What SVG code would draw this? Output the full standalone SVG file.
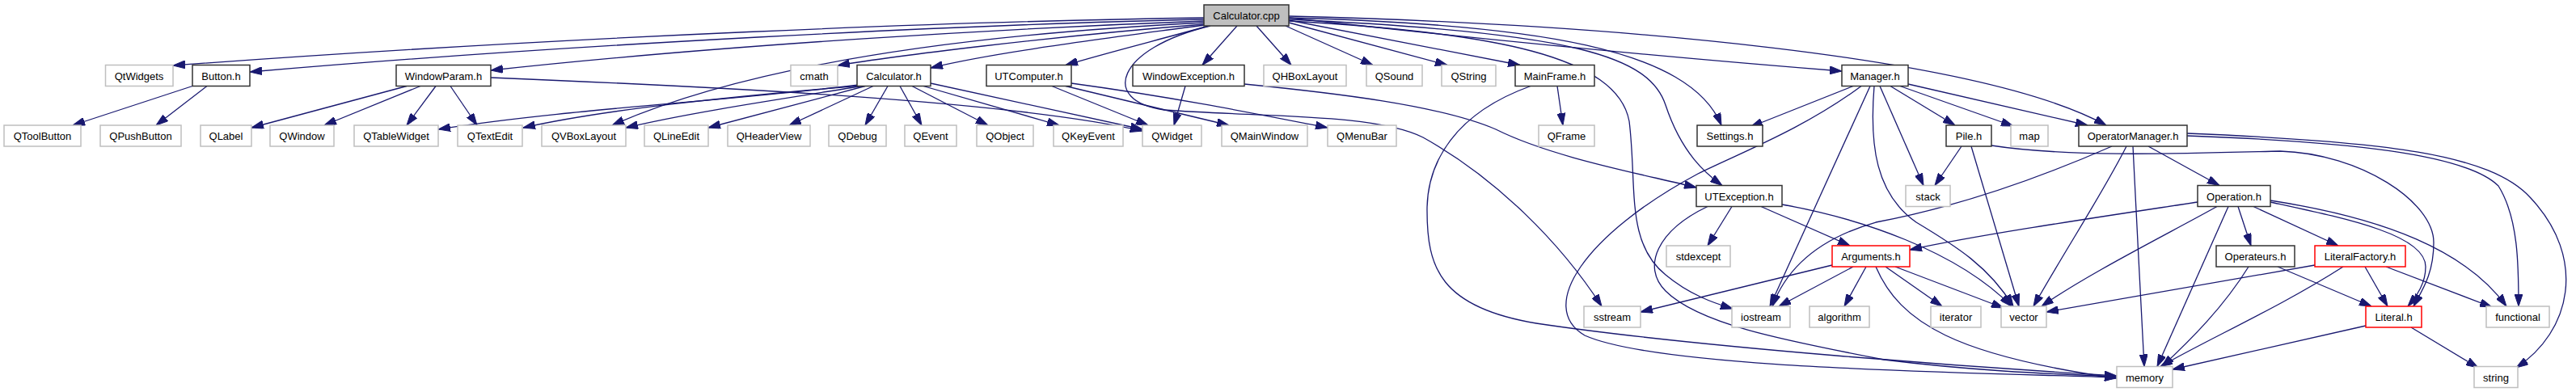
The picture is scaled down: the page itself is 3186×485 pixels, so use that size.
<svg xmlns="http://www.w3.org/2000/svg" width="3186" height="485" viewBox="0 0 3186 485">
<style>
rect{stroke-width:1.5}
.n{fill:#fff;stroke:#333}
.e{fill:#fff;stroke:#bfbfbf}
.t{fill:#fff;stroke:#f00}
.r{fill:#bfbfbf;stroke:#333}
text{font-family:"Liberation Sans",Arial,sans-serif;font-size:13px;fill:#000;text-anchor:middle}
#edges path{fill:none;stroke:#191970;stroke-width:1.3;marker-end:url(#ah)}
</style>
<defs>
<marker id="ah" markerUnits="userSpaceOnUse" markerWidth="15" markerHeight="10" refX="15" refY="5" orient="auto"><path d="M0,0 L15,5 L0,10 z" fill="#191970" stroke="#191970" stroke-width="1"/></marker>
</defs>
<rect width="3186" height="485" fill="#fff"/>
<g id="edges">
<path d="M1489,22 C1200,26 700,45 214,81"/>
<path d="M1489,24 C1200,30 700,55 309,89"/>
<path d="M1489,26 C1250,35 900,55 607,87"/>
<path d="M1489,28 C1250,40 950,70 757,155"/>
<path d="M1489,30 C1300,45 1100,70 1036,81"/>
<path d="M1489,31 C1350,50 1230,65 1151,84"/>
<path d="M1495,32 C1430,50 1370,65 1318,80.5"/>
<path d="M1497,32 C1380,60 1360,125 1440,136 C1560,145 1700,140 1760,170 C1850,220 1930,300 1981,379"/>
<path d="M1530,32 L1487,80.5"/>
<path d="M1554,32 L1597,80.5"/>
<path d="M1590,32 L1698,80.5"/>
<path d="M1594,28 L1790,80.5"/>
<path d="M1594,25 L1880,80.5"/>
<path d="M1594,22 C1800,45 2050,70 2278,88"/>
<path d="M1594,20 C2000,30 2450,70 2605,155"/>
<path d="M1594,22 C1900,30 2090,60 2129,155"/>
<path d="M1594,24 C1950,40 2040,70 2060,130 C2080,190 2110,215 2130,229.5"/>
<path d="M1594,26 C1850,40 2000,70 2015,150 C2025,230 2010,300 2060,340 C2090,365 2120,375 2143,382"/>
<path d="M238,106.5 L90,155"/>
<path d="M256,106.5 L193,155"/>
<path d="M503,106.5 L311,158"/>
<path d="M520,106.5 L401,155"/>
<path d="M539,106.5 L503,155"/>
<path d="M557,106.5 L590,155"/>
<path d="M607,96 C900,108 1250,125 1413,162"/>
<path d="M1062,105 C900,125 700,135 542,160"/>
<path d="M1064,106 C900,120 750,135 647,158"/>
<path d="M1066,106.5 C950,125 850,140 774,158"/>
<path d="M1070,106.5 L876,158"/>
<path d="M1080,106.5 L976,155"/>
<path d="M1098,106.5 L1070,155"/>
<path d="M1113,106.5 L1140,155"/>
<path d="M1128,106.5 L1222,155"/>
<path d="M1142,106.5 L1310,155"/>
<path d="M1151,103 L1413,160"/>
<path d="M1301,106.5 L1420,155"/>
<path d="M1318,106.5 L1520,155"/>
<path d="M1325,103 C1450,120 1550,140 1642,158"/>
<path d="M1466,106.5 L1452,155"/>
<path d="M1539,104 C1650,115 1780,130 1850,160 C1920,195 2030,215 2098,232"/>
<path d="M1926,106.5 L1933,155"/>
<path d="M1893,106.5 C1800,140 1765,200 1765,260 C1765,330 1780,380 1900,400 C2100,430 2450,455 2618,465"/>
<path d="M2292,106.5 L2165,157"/>
<path d="M2302,106.5 C2230,160 2150,190 2100,215 C1960,290 1900,380 1960,415 C2050,455 2400,460 2618,467"/>
<path d="M2313,106.5 L2189,379"/>
<path d="M2318,106.5 C2312,180 2320,240 2370,275 C2420,305 2460,330 2490,379"/>
<path d="M2325,106.5 L2379,229.5"/>
<path d="M2338,106.5 L2418,155"/>
<path d="M2350,106.5 L2490,156"/>
<path d="M2360,104 L2582,155"/>
<path d="M2426,181 L2393,229.5"/>
<path d="M2438,181 L2497,379"/>
<path d="M2463,180 C2560,195 2700,190 2820,187 C2920,190 3010,250 3010,300 C3010,340 2995,360 2985,379"/>
<path d="M2657,181 L2745,229.5"/>
<path d="M2612,181 C2500,230 2400,260 2320,275 C2250,295 2210,330 2192,379"/>
<path d="M2630,181 C2600,240 2560,300 2515,379"/>
<path d="M2638,181 C2642,260 2648,380 2652,453.5"/>
<path d="M2705,168 C2900,175 3050,190 3090,230 C3115,270 3115,330 3115,379"/>
<path d="M2705,165 C2950,175 3080,190 3130,245 C3200,320 3180,410 3112,455"/>
<path d="M2142,255.5 L2112,304"/>
<path d="M2178,255.5 L2288,304"/>
<path d="M2204,253 C2300,270 2420,310 2488,379"/>
<path d="M2112,255.5 C2050,285 2030,330 2060,360 C2100,400 2200,420 2330,445 C2450,460 2550,463 2618,466"/>
<path d="M2266,328 L2029,386"/>
<path d="M2292,330 L2200,379"/>
<path d="M2308,330 L2281,379"/>
<path d="M2320,330 C2350,400 2420,440 2618,468"/>
<path d="M2332,330 L2402,379"/>
<path d="M2344,330 L2478,381"/>
<path d="M2718,250 C2600,268 2450,290 2362,309"/>
<path d="M2742,255.5 C2680,290 2580,340 2525,379"/>
<path d="M2756,255.5 L2668,453.5"/>
<path d="M2768,255.5 L2784,304"/>
<path d="M2787,255.5 L2892,304"/>
<path d="M2808,250 C2900,270 3000,290 3000,330 C3000,350 2990,365 2978,379"/>
<path d="M2808,248 C2950,270 3050,310 3100,379"/>
<path d="M2781,330 C2750,380 2710,420 2674,453.5"/>
<path d="M2817,330 L2933,379"/>
<path d="M2863,328 L2531,386"/>
<path d="M2898,330 C2820,380 2730,420 2672,453.5"/>
<path d="M2925,330 L2953,379"/>
<path d="M2951,330 L3082,380"/>
<path d="M2926,403 L2687,457"/>
<path d="M2982,405 L3065,455"/>
</g>
<g id="Calculator.cpp"><rect class="r" x="1489" y="6" width="105" height="26"/><text x="1541.5" y="24">Calculator.cpp</text></g>
<g id="QtWidgets"><rect class="e" x="130.5" y="80.5" width="83.5" height="26"/><text x="172" y="98.5">QtWidgets</text></g>
<g id="Button.h"><rect class="n" x="238" y="80.5" width="71" height="26"/><text x="273.5" y="98.5">Button.h</text></g>
<g id="WindowParam.h"><rect class="n" x="490" y="80.5" width="117" height="26"/><text x="548.5" y="98.5">WindowParam.h</text></g>
<g id="cmath"><rect class="e" x="978" y="80.5" width="58" height="26"/><text x="1007" y="98.5">cmath</text></g>
<g id="Calculator.h"><rect class="n" x="1060" y="80.5" width="91" height="26"/><text x="1105.5" y="98.5">Calculator.h</text></g>
<g id="UTComputer.h"><rect class="n" x="1220" y="80.5" width="105" height="26"/><text x="1272.5" y="98.5">UTComputer.h</text></g>
<g id="WindowException.h"><rect class="n" x="1401" y="80.5" width="138" height="26"/><text x="1470" y="98.5">WindowException.h</text></g>
<g id="QHBoxLayout"><rect class="e" x="1563" y="80.5" width="102" height="26"/><text x="1614" y="98.5">QHBoxLayout</text></g>
<g id="QSound"><rect class="e" x="1690" y="80.5" width="69" height="26"/><text x="1724.5" y="98.5">QSound</text></g>
<g id="QString"><rect class="e" x="1783" y="80.5" width="67" height="26"/><text x="1816.5" y="98.5">QString</text></g>
<g id="MainFrame.h"><rect class="n" x="1874" y="80.5" width="98" height="26"/><text x="1923" y="98.5">MainFrame.h</text></g>
<g id="Manager.h"><rect class="n" x="2278" y="80.5" width="82" height="26"/><text x="2319" y="98.5">Manager.h</text></g>
<g id="QToolButton"><rect class="e" x="5" y="155" width="95" height="26"/><text x="52.5" y="173">QToolButton</text></g>
<g id="QPushButton"><rect class="e" x="124" y="155" width="100" height="26"/><text x="174" y="173">QPushButton</text></g>
<g id="QLabel"><rect class="e" x="248" y="155" width="63" height="26"/><text x="279.5" y="173">QLabel</text></g>
<g id="QWindow"><rect class="e" x="334" y="155" width="79" height="26"/><text x="373.5" y="173">QWindow</text></g>
<g id="QTableWidget"><rect class="e" x="438" y="155" width="104" height="26"/><text x="490" y="173">QTableWidget</text></g>
<g id="QTextEdit"><rect class="e" x="566" y="155" width="80" height="26"/><text x="606" y="173">QTextEdit</text></g>
<g id="QVBoxLayout"><rect class="e" x="670" y="155" width="104" height="26"/><text x="722" y="173">QVBoxLayout</text></g>
<g id="QLineEdit"><rect class="e" x="797" y="155" width="79" height="26"/><text x="836.5" y="173">QLineEdit</text></g>
<g id="QHeaderView"><rect class="e" x="900" y="155" width="102" height="26"/><text x="951" y="173">QHeaderView</text></g>
<g id="QDebug"><rect class="e" x="1025" y="155" width="71" height="26"/><text x="1060.5" y="173">QDebug</text></g>
<g id="QEvent"><rect class="e" x="1119" y="155" width="64" height="26"/><text x="1151" y="173">QEvent</text></g>
<g id="QObject"><rect class="e" x="1208" y="155" width="70" height="26"/><text x="1243" y="173">QObject</text></g>
<g id="QKeyEvent"><rect class="e" x="1303" y="155" width="86" height="26"/><text x="1346" y="173">QKeyEvent</text></g>
<g id="QWidget"><rect class="e" x="1413" y="155" width="73" height="26"/><text x="1449.5" y="173">QWidget</text></g>
<g id="QMainWindow"><rect class="e" x="1511" y="155" width="106" height="26"/><text x="1564" y="173">QMainWindow</text></g>
<g id="QMenuBar"><rect class="e" x="1642" y="155" width="85" height="26"/><text x="1684.5" y="173">QMenuBar</text></g>
<g id="QFrame"><rect class="e" x="1903" y="155" width="69" height="26"/><text x="1937.5" y="173">QFrame</text></g>
<g id="Settings.h"><rect class="n" x="2099" y="155" width="81" height="26"/><text x="2139.5" y="173">Settings.h</text></g>
<g id="Pile.h"><rect class="n" x="2407" y="155" width="56" height="26"/><text x="2435" y="173">Pile.h</text></g>
<g id="map"><rect class="e" x="2487" y="155" width="46" height="26"/><text x="2510" y="173">map</text></g>
<g id="OperatorManager.h"><rect class="n" x="2571" y="155" width="134" height="26"/><text x="2638" y="173">OperatorManager.h</text></g>
<g id="UTException.h"><rect class="n" x="2098" y="229.5" width="106" height="26"/><text x="2151" y="247.5">UTException.h</text></g>
<g id="stack"><rect class="e" x="2357" y="229.5" width="55" height="26"/><text x="2384.5" y="247.5">stack</text></g>
<g id="Operation.h"><rect class="n" x="2718" y="229.5" width="90" height="26"/><text x="2763" y="247.5">Operation.h</text></g>
<g id="stdexcept"><rect class="e" x="2061" y="304" width="79" height="26"/><text x="2100.5" y="322">stdexcept</text></g>
<g id="Arguments.h"><rect class="t" x="2266" y="304" width="96" height="26"/><text x="2314" y="322">Arguments.h</text></g>
<g id="Operateurs.h"><rect class="n" x="2741" y="304" width="97" height="26"/><text x="2789.5" y="322">Operateurs.h</text></g>
<g id="LiteralFactory.h"><rect class="t" x="2863" y="304" width="112" height="26"/><text x="2919" y="322">LiteralFactory.h</text></g>
<g id="sstream"><rect class="e" x="1959" y="379" width="70" height="26"/><text x="1994" y="397">sstream</text></g>
<g id="iostream"><rect class="e" x="2142" y="379" width="72" height="26"/><text x="2178" y="397">iostream</text></g>
<g id="algorithm"><rect class="e" x="2238" y="379" width="74" height="26"/><text x="2275" y="397">algorithm</text></g>
<g id="iterator"><rect class="e" x="2388" y="379" width="62" height="26"/><text x="2419" y="397">iterator</text></g>
<g id="vector"><rect class="e" x="2475" y="379" width="56" height="26"/><text x="2503" y="397">vector</text></g>
<g id="Literal.h"><rect class="t" x="2926" y="379" width="69" height="26"/><text x="2960.5" y="397">Literal.h</text></g>
<g id="functional"><rect class="e" x="3075" y="379" width="78" height="26"/><text x="3114" y="397">functional</text></g>
<g id="memory"><rect class="e" x="2618" y="453.5" width="69" height="26"/><text x="2652.5" y="471.5">memory</text></g>
<g id="string"><rect class="e" x="3060" y="453.5" width="54" height="26"/><text x="3087" y="471.5">string</text></g>
</svg>
